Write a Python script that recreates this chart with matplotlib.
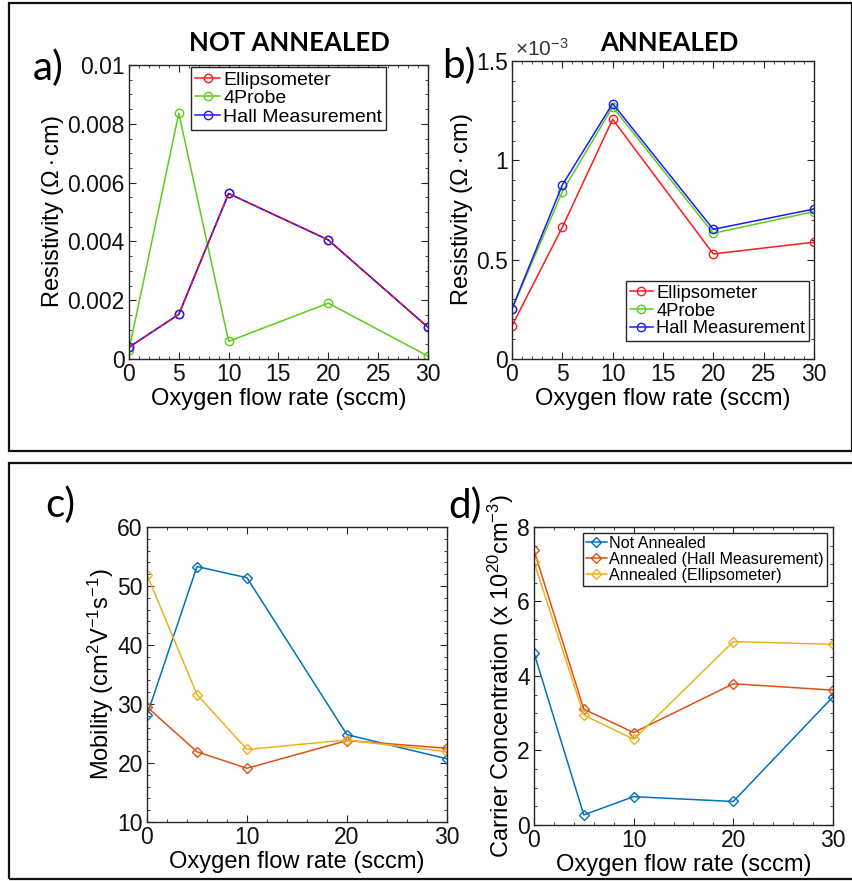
import matplotlib
matplotlib.use('Agg')
import matplotlib.pyplot as plt
from matplotlib.patches import Rectangle
from matplotlib.ticker import AutoMinorLocator

plt.rcParams['font.family'] = ['Liberation Sans', 'DejaVu Sans']
plt.rcParams['mathtext.fontset'] = 'custom'
plt.rcParams['mathtext.rm'] = 'Liberation Sans'
plt.rcParams['mathtext.it'] = 'Liberation Sans:italic'

# oxygen flow rate (sccm)
flow = [0, 5, 10, 20, 30]

# a) resistivity, not annealed (ohm cm)
res_na_ellip = [0.00040, 0.00152, 0.00563, 0.00405, 0.00108]
res_na_4probe = [0.00030, 0.00836, 0.00060, 0.00190, 0.00010]
res_na_hall = [0.00040, 0.00152, 0.00563, 0.00405, 0.00108]

# b) resistivity, annealed (x1e-3 ohm cm)
res_a_ellip = [0.167, 0.663, 1.207, 0.529, 0.588]
res_a_4probe = [0.250, 0.842, 1.269, 0.633, 0.742]
res_a_hall = [0.253, 0.876, 1.286, 0.653, 0.755]

# c) mobility (cm2/Vs)
mob_na = [28.1, 53.3, 51.4, 24.8, 20.7]
mob_a_hall = [29.5, 21.9, 19.1, 23.8, 22.5]
mob_a_ellip = [51.9, 31.6, 22.3, 23.9, 21.9]

# d) carrier concentration (x1e20 cm-3)
cc_na = [4.62, 0.27, 0.76, 0.63, 3.44]
cc_a_hall = [7.37, 3.11, 2.48, 3.79, 3.62]
cc_a_ellip = [7.06, 2.95, 2.30, 4.92, 4.85]

res_labels = ['Ellipsometer', '4Probe', 'Hall Measurement']
cc_labels = ['Not Annealed', 'Annealed (Hall Measurement)', 'Annealed (Ellipsometer)']

RED, GREEN, BLUE = '#ff1a1a', '#5ccc1a', '#1a1aff'
M_BLUE, M_ORANGE, M_YELLOW = '#0072BD', '#D95319', '#EDB120'
AX_COL = '#262626'
TICK_FS = 16.5
LAB_FS = 17

fig = plt.figure(figsize=(8.53, 8.81), dpi=100)


def style(ax):
    ax.tick_params(which='both', direction='in', top=True, right=True,
                   colors=AX_COL, labelsize=TICK_FS, labelcolor='#111111', pad=3)
    ax.tick_params(which='major', length=5)
    ax.tick_params(which='minor', length=2.5)
    ax.xaxis.set_minor_locator(AutoMinorLocator())
    ax.yaxis.set_minor_locator(AutoMinorLocator())
    for s in ax.spines.values():
        s.set_color(AX_COL)
        s.set_linewidth(1.0)


def legend(ax, fontsize, **kw):
    leg = ax.legend(fontsize=fontsize, handlelength=1.3, handletextpad=0.15,
                    labelspacing=0.05, borderpad=0.2, borderaxespad=0,
                    fancybox=False, framealpha=1, edgecolor=AX_COL, **kw)
    leg.get_frame().set_linewidth(1.0)
    return leg


circ = dict(marker='o', markersize=6, markerfacecolor='none', linewidth=1.1)
diam = dict(marker='D', markersize=5.5, markerfacecolor='none', linewidth=1.1)

# a)
ax1 = fig.add_axes([0.1512, 0.5925, 0.3505, 0.3337])
ax1.plot(flow, res_na_ellip, color=RED, label=res_labels[0], **circ)
ax1.plot(flow, res_na_4probe, color=GREEN, label=res_labels[1], **circ)
ax1.plot(flow, res_na_hall, color=BLUE, label=res_labels[2], **circ)
ax1.plot(flow, res_na_ellip, color=RED, linewidth=1.1, dashes=(3, 3))
ax1.set_xlim(0, 30)
ax1.set_ylim(0, 0.01)
ax1.set_xticks([0, 5, 10, 15, 20, 25, 30])
ax1.set_yticks([0, 0.002, 0.004, 0.006, 0.008, 0.01])
ax1.set_yticklabels(['0', '0.002', '0.004', '0.006', '0.008', '0.01'])
style(ax1)
ax1.set_xlabel('Oxygen flow rate (sccm)', fontsize=LAB_FS, labelpad=1)
ax1.set_ylabel(r'Resistivity ($\Omega\cdot$cm)', fontsize=LAB_FS, labelpad=1)
legend(ax1, 14, loc='upper right', bbox_to_anchor=(0.86, 0.993))

# b)
ax2 = fig.add_axes([0.6002, 0.5925, 0.354, 0.3382])
ax2.plot(flow, res_a_ellip, color=RED, label=res_labels[0], **circ)
ax2.plot(flow, res_a_4probe, color=GREEN, label=res_labels[1], **circ)
ax2.plot(flow, res_a_hall, color=BLUE, label=res_labels[2], **circ)
ax2.set_xlim(0, 30)
ax2.set_ylim(0, 1.5)
ax2.set_xticks([0, 5, 10, 15, 20, 25, 30])
ax2.set_yticks([0, 0.5, 1.0, 1.5])
ax2.set_yticklabels(['0', '0.5', '1', '1.5'])
style(ax2)
ax2.text(0.01, 1.005, r'$\times$10$^{-3}$', transform=ax2.transAxes, fontsize=15,
         ha='left', va='bottom', color='#333333')
ax2.set_xlabel('Oxygen flow rate (sccm)', fontsize=LAB_FS, labelpad=1)
ax2.set_ylabel(r'Resistivity ($\Omega\cdot$cm)', fontsize=LAB_FS, labelpad=1)
legend(ax2, 13.2, loc='lower right', bbox_to_anchor=(0.983, 0.06))

# c)
ax3 = fig.add_axes([0.1723, 0.0670, 0.3517, 0.3348])
ax3.plot(flow, mob_na, color=M_BLUE, **diam)
ax3.plot(flow, mob_a_hall, color=M_ORANGE, **diam)
ax3.plot(flow, mob_a_ellip, color=M_YELLOW, **diam)
ax3.set_xlim(0, 30)
ax3.set_ylim(10, 60)
ax3.set_xticks([0, 10, 20, 30])
ax3.set_yticks([10, 20, 30, 40, 50, 60])
style(ax3)
ax3.set_xlabel('Oxygen flow rate (sccm)', fontsize=LAB_FS, labelpad=1)
ax3.set_ylabel(r'Mobility (cm$^2$V$^{-1}$s$^{-1}$)', fontsize=LAB_FS, labelpad=1)

# d)
ax4 = fig.add_axes([0.626, 0.0636, 0.3505, 0.3383])
ax4.plot(flow, cc_na, color=M_BLUE, label=cc_labels[0], **diam)
ax4.plot(flow, cc_a_hall, color=M_ORANGE, label=cc_labels[1], **diam)
ax4.plot(flow, cc_a_ellip, color=M_YELLOW, label=cc_labels[2], **diam)
ax4.set_xlim(0, 30)
ax4.set_ylim(0, 8)
ax4.set_xticks([0, 10, 20, 30])
ax4.set_yticks([0, 2, 4, 6, 8])
style(ax4)
ax4.set_xlabel('Oxygen flow rate (sccm)', fontsize=LAB_FS, labelpad=1)
ax4.set_ylabel(r'Carrier Concentration (x 10$^{20}$cm$^{-3}$)', fontsize=LAB_FS, labelpad=1)
legend(ax4, 11.6, loc='upper right', bbox_to_anchor=(0.98, 0.98))

# panel titles and letters
tfont = ['Lato', 'DejaVu Sans']
fig.text(289 / 853, 1 - 43 / 881, 'NOT ANNEALED', family=tfont, fontweight='bold',
         fontsize=18.5, ha='center', va='center')
fig.text(669 / 853, 1 - 43 / 881, 'ANNEALED', family=tfont, fontweight='bold',
         fontsize=18.5, ha='center', va='center')
for x, y, s in [(33, 68, 'a)'), (442, 66, 'b)'), (45, 505, 'c)'), (448, 506, 'd)')]:
    fig.text(x / 853, 1 - y / 881, s, family=tfont, fontsize=29, ha='left', va='center')

# frames around the two rows
fig.add_artist(Rectangle((9 / 853, 1 - 451 / 881), 843 / 853, 448 / 881,
                         transform=fig.transFigure, fill=False, edgecolor='#111111', linewidth=1.6))
fig.add_artist(Rectangle((9 / 853, 1 - 879 / 881), 850 / 853, 416 / 881,
                         transform=fig.transFigure, fill=False, edgecolor='#111111', linewidth=1.6))

fig.savefig('out.png', dpi=100)
